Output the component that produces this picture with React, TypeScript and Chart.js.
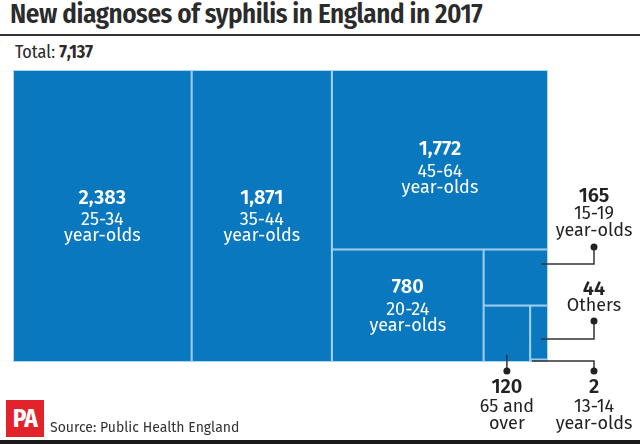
import React, { useEffect, useRef } from 'react';
import { Chart, registerables } from 'chart.js';

Chart.register(...registerables);

// ---- data ----
const categories = ['25-34', '35-44', '45-64', '20-24', '15-19', '65 and over', 'Others', '13-14'];
const categoryLines = [
  ['25-34', 'year-olds'],
  ['35-44', 'year-olds'],
  ['45-64', 'year-olds'],
  ['20-24', 'year-olds'],
  ['15-19', 'year-olds'],
  ['65 and', 'over'],
  ['Others'],
  ['13-14', 'year-olds'],
];
const counts = [2383, 1871, 1772, 780, 165, 120, 44, 2];
const totalLabel = '7,137';

const BLUE = '#0a78bf';
const EDGE = 'rgba(190,225,248,0.9)';
const DARK = '#2b2b2b';
const FONT = '"Fira Sans", "Open Sans", "Noto Sans", sans-serif';
const COND = '"Fira Sans Condensed", "Roboto Condensed", "Liberation Sans Narrow", "Open Sans", sans-serif';

type Rect = { x0: number; y0: number; x1: number; y1: number };

// greedy strip layout: each value takes a strip along the longer side of the remaining rectangle
function layoutCells(values: number[], w: number, h: number): Rect[] {
  let x0 = 0, y0 = 0, x1 = w, y1 = h;
  let remaining = values.reduce((a, b) => a + b, 0);
  const out: Rect[] = [];
  values.forEach((v, i) => {
    const rw = x1 - x0, rh = y1 - y0;
    if (i === values.length - 1) {
      out.push({ x0, y0, x1, y1 });
    } else if (rw >= rh) {
      const cw = rw * (v / remaining);
      out.push({ x0, y0, x1: x0 + cw, y1 });
      x0 += cw;
    } else {
      const ch = rh * (v / remaining);
      out.push({ x0, y0, x1, y1: y0 + ch });
      y0 += ch;
    }
    remaining -= v;
  });
  return out.map((r) => ({ x0: r.x0 / w, y0: r.y0 / h, x1: r.x1 / w, y1: r.y1 / h }));
}

const fmt = (n: number) => n.toLocaleString('en-GB');

// external callouts for the small cells
const callouts: Record<number, any> = {
  4: { side: 'right', tx: 46, ty: [196, 214, 231], dotY: 247, elbowY: 264, ax: 0.9 },
  6: { side: 'right', tx: 46, ty: [289, 306], dotY: 321, elbowY: 339, ax: 0.6 },
  7: { side: 'rightBottom', tx: 46, ty: [387, 407, 424], dotY: 371, elbowY: 361, ax: 0.1 },
  5: { side: 'bottom', tx: 0, ty: [387, 407, 424], dotY: 371, elbowY: 355, ax: 0.5 },
};

const treemapPlugin = {
  id: 'treemapCells',
  afterDatasetsDraw(chart: any) {
    const { ctx, chartArea, scales } = chart;
    const xs = scales.x, ys = scales.y;
    const rects = layoutCells(counts, chartArea.right - chartArea.left, chartArea.bottom - chartArea.top);
    const px = rects.map((r) => ({
      l: xs.getPixelForValue(r.x0),
      r: xs.getPixelForValue(r.x1),
      t: ys.getPixelForValue(r.y0),
      b: ys.getPixelForValue(r.y1),
    }));
    ctx.save();
    px.forEach((p) => {
      ctx.fillStyle = BLUE;
      ctx.fillRect(p.l, p.t, p.r - p.l, p.b - p.t);
    });
    ctx.strokeStyle = EDGE;
    ctx.lineWidth = 1;
    px.forEach((p) => {
      ctx.strokeRect(p.l + 0.5, p.t + 0.5, p.r - p.l - 1, p.b - p.t - 1);
    });

    // inside labels
    ctx.textAlign = 'center';
    ctx.textBaseline = 'middle';
    px.forEach((p, i) => {
      if (callouts[i]) return;
      const cx = (p.l + p.r) / 2;
      const cy = (p.t + p.b) / 2 + (i === 2 ? 8 : 0);
      ctx.fillStyle = '#ffffff';
      ctx.font = `600 20px ${FONT}`;
      ctx.fillText(fmt(counts[i]), cx, cy - 18);
      ctx.font = `400 18px ${FONT}`;
      categoryLines[i].forEach((line, k) => ctx.fillText(line, cx, cy + 4 + k * 16));
    });

    // callouts
    ctx.strokeStyle = '#333';
    ctx.lineWidth = 1.5;
    Object.keys(callouts).forEach((key) => {
      const i = Number(key);
      const c = callouts[i];
      const p = px[i];
      const tx = c.side === 'bottom' ? p.l + (p.r - p.l) * c.ax : chartArea.right + c.tx;
      ctx.beginPath();
      if (c.side === 'bottom') {
        ctx.moveTo(tx, c.elbowY);
        ctx.lineTo(tx, c.dotY);
      } else {
        const ax = p.l + (p.r - p.l) * c.ax;
        ctx.moveTo(ax, c.elbowY);
        ctx.lineTo(tx, c.elbowY);
        ctx.lineTo(tx, c.dotY);
      }
      ctx.stroke();
      ctx.fillStyle = '#222';
      ctx.beginPath();
      ctx.arc(tx, c.dotY, 3.5, 0, Math.PI * 2);
      ctx.fill();
      ctx.fillStyle = '#222';
      ctx.font = `600 20px ${FONT}`;
      ctx.fillText(fmt(counts[i]), tx, c.ty[0]);
      ctx.font = `400 18px ${FONT}`;
      categoryLines[i].forEach((line, k) => ctx.fillText(line, tx, c.ty[k + 1]));
    });
    ctx.restore();
  },
};

export default function App() {
  const ref = useRef<HTMLCanvasElement | null>(null);
  useEffect(() => {
    if (!ref.current) return;
    const chart = new Chart(ref.current, {
      type: 'scatter',
      data: {
        labels: categories,
        datasets: [
          {
            label: 'Diagnoses',
            data: counts.map((v, i) => ({ x: 0, y: 0, v, i })) as any,
            pointRadius: 0,
            pointHoverRadius: 0,
          },
        ],
      },
      options: {
        animation: false,
        responsive: true,
        maintainAspectRatio: false,
        events: [],
        layout: { padding: { left: 13, right: 92, top: 70, bottom: 82 } },
        scales: {
          x: { type: 'linear', min: 0, max: 1, display: false },
          y: { type: 'linear', min: 0, max: 1, reverse: true, display: false },
        },
        plugins: { legend: { display: false }, tooltip: { enabled: false } },
      },
      plugins: [treemapPlugin],
    });
    return () => chart.destroy();
  }, []);

  return (
    <div style={{ position: 'fixed', left: 0, top: 0, width: 640, height: 444, background: '#fff', overflow: 'hidden', fontFamily: FONT, color: DARK }}>
      <div style={{ position: 'absolute', left: 10, top: -2, fontSize: 27, fontWeight: 600, whiteSpace: 'nowrap', letterSpacing: -0.45, fontFamily: COND }}>
        New diagnoses of syphilis in England in 2017
      </div>
      <div style={{ position: 'absolute', left: 0, top: 34, width: 640, height: 2, background: '#333' }} />
      <div style={{ position: 'absolute', left: 15, top: 41, fontSize: 18, whiteSpace: 'nowrap', fontFamily: COND }}>
        Total: <b style={{ fontWeight: 700 }}>{totalLabel}</b>
      </div>
      <div style={{ position: 'absolute', left: 0, top: 0, width: 640, height: 444 }}>
        <canvas ref={ref} />
      </div>
      <div style={{ position: 'absolute', left: 6, top: 400, width: 38, height: 37, background: '#e3232c', color: '#fff', fontWeight: 700, fontSize: 25, textAlign: 'center', lineHeight: '38px', letterSpacing: -0.5, fontFamily: COND }}>
        PA
      </div>
      <div style={{ position: 'absolute', left: 50, top: 419, fontSize: 14, whiteSpace: 'nowrap', color: '#333' }}>
        Source: Public Health England
      </div>
      <div style={{ position: 'absolute', left: 0, top: 440, width: 640, height: 4, background: '#1a1a1a' }} />
    </div>
  );
}
